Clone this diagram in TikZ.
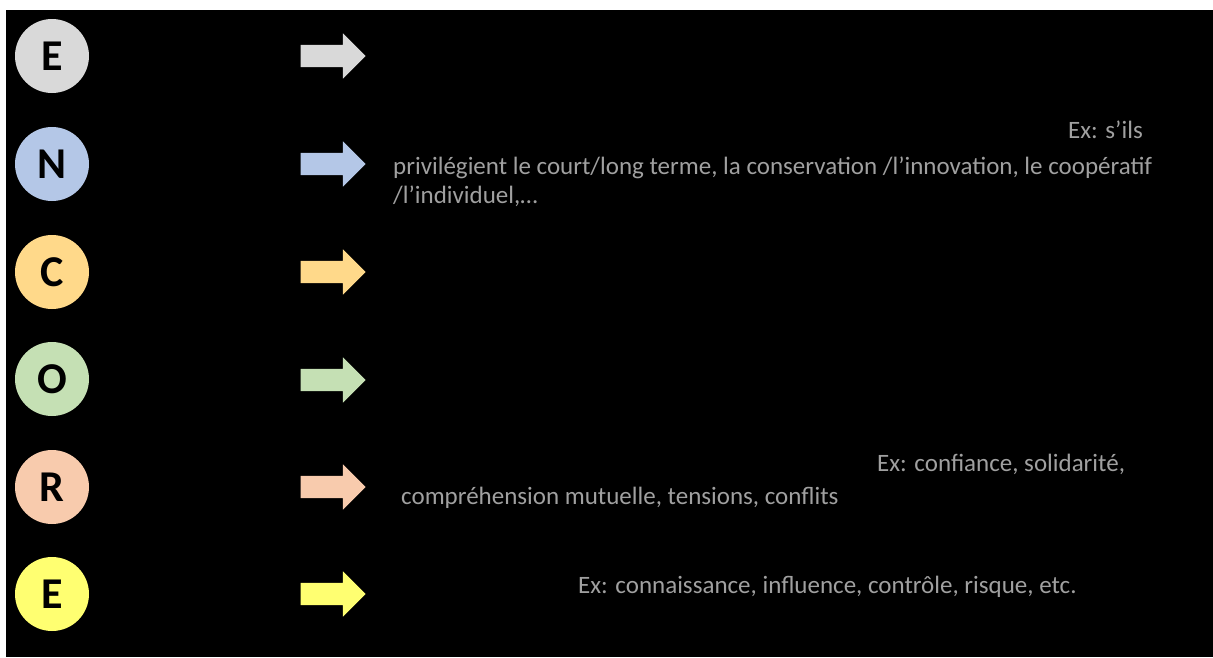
\documentclass[tikz,border=0pt]{standalone}
\usepackage{fontspec}
\setmainfont{Carlito}
\usetikzlibrary{shapes.arrows}
\definecolor{egray}{HTML}{D9D9D9}
\definecolor{nblue}{HTML}{B4C7E7}
\definecolor{cgold}{HTML}{FFD98A}
\definecolor{ogreen}{HTML}{C5E0B4}
\definecolor{rsalmon}{HTML}{F8CBAD}
\definecolor{eyellow}{HTML}{FFFF71}
\definecolor{txtgray}{HTML}{A0A0A0}
\tikzset{
  letter/.style={circle,minimum size=74pt,inner sep=0pt,font=\fontsize{44}{44}\selectfont\bfseries},
  blockarrow/.style={single arrow,inner sep=11pt,minimum height=65pt,single arrow head extend=11.5pt},
  example/.style={text=txtgray,inner sep=0pt,font=\fontsize{25}{30}\selectfont}
}

\begin{document}
\begin{tikzpicture}[x=1pt,y=-1pt]
                \useasboundingbox (0,0) rectangle (1213,657);
                \fill[black] (6,10) rectangle (1213,657);
                % letters
                \node[letter,fill=egray] (e1) at (52,56) {E};
                \node[letter,fill=nblue] (n) at (52,164) {N};
                \node[letter,fill=cgold] (c) at (52,272) {C};
                \node[letter,fill=ogreen] (o) at (52,379) {O};
                \node[letter,fill=rsalmon] (r) at (52,487) {R};
                \node[letter,fill=eyellow] (e2) at (52,594) {E};
                % arrows
                \node[blockarrow,fill=egray] (ae1) at (327.5,56) {};
                \node[blockarrow,fill=nblue] (an) at (327.5,164) {};
                \node[blockarrow,fill=cgold] (ac) at (327.5,272) {};
                \node[blockarrow,fill=ogreen] (ao) at (327.5,380) {};
                \node[blockarrow,fill=rsalmon] (ar) at (327.5,487) {};
                \node[blockarrow,fill=eyellow] (ae2) at (327.5,594) {};
                % examples
                \node[example,anchor=mid east] (xn1) at (1143,136) {Ex: s’ils};
                \node[example,anchor=mid west] (xn2) at (393,172) {privilégient le court/long terme, la conservation /l’innovation, le coopératif};
                \node[example,anchor=mid west] (xn3) at (393,201) {/l’individuel,…};
                \node[example,anchor=mid west] (xr1) at (877,469) {Ex: confiance, solidarité,};
                \node[example,anchor=mid west] (xr2) at (401,502) {compréhension mutuelle, tensions, conflits};
                \node[example,anchor=mid west] (xe) at (578,591) {Ex: connaissance, influence, contrôle, risque, etc.};
            \end{tikzpicture}
\end{document}
